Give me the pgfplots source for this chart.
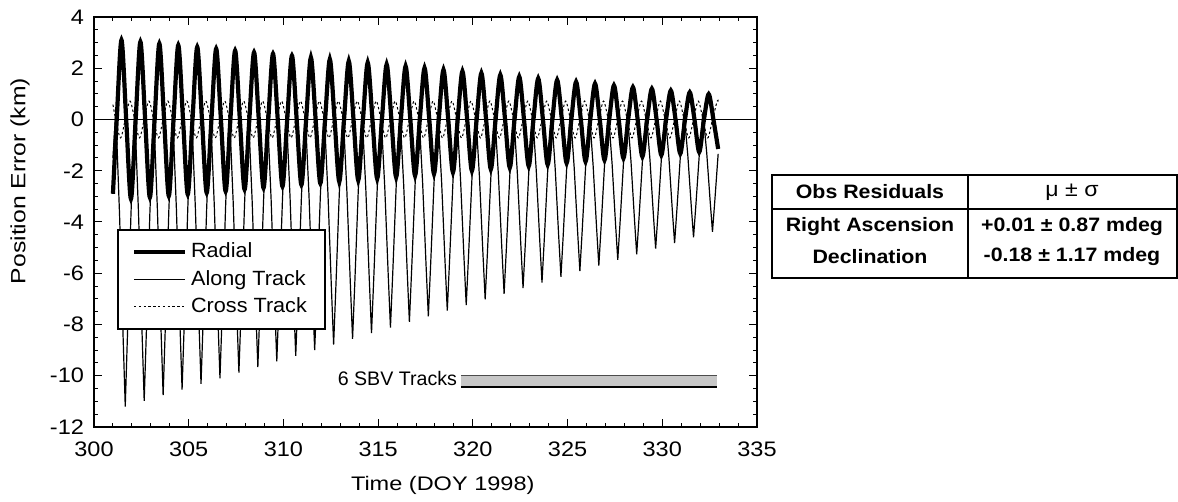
\documentclass[border=0pt]{standalone}
\usepackage{fontspec}
\setmainfont{Liberation Sans}
\newfontfamily\tickfont{Liberation Sans}[FakeStretch=1.12]
\newfontfamily\labfont{Liberation Sans}[FakeStretch=1.2]
\newfontfamily\legfont{Liberation Sans}[FakeStretch=1.05]
\newfontfamily\tabfont{Liberation Sans}[FakeStretch=1.1]
\usepackage{pgfplots}
\pgfplotsset{compat=1.18}
\begin{document}
\begin{tikzpicture}
\useasboundingbox (-47pt,-37.5pt) rectangle (542pt,213.5pt);
\begin{axis}[
  scale only axis, width=331.5pt, height=205pt,
  at={(0pt,0pt)}, anchor=south west,
  xmin=300, xmax=335, ymin=-12, ymax=4,
  xtick={300,305,...,335}, ytick={-12,-10,...,4},
  minor x tick num=4, minor y tick num=3,
  tick align=inside, major tick length=4pt, minor tick length=2pt,
  every tick/.style={black, line width=0.5pt},
  axis line style={line width=0.7pt},
  /pgf/number format/assume math mode=true,
  /pgf/number format/set thousands separator={},
  tick label style={font=\tickfont\fontsize{10.5}{12}\selectfont},
  xticklabel style={yshift=-4pt},
  yticklabel style={xshift=-1.5pt},
  xlabel={Time (DOY 1998)}, ylabel={Position Error (km)},
  label style={font=\labfont\fontsize{9.8}{12}\selectfont},
  xlabel style={at={(axis description cs:0.526,-0.1415)}, anchor=center},
  ylabel style={at={(axis description cs:-0.1116,0.60)}, anchor=center, font=\labfont\fontsize{10.3}{12}\selectfont},
  legend style={at={(axis description cs:0.0347,0.483)}, anchor=north west,
    draw=black, line width=0.9pt, inner xsep=7pt, inner ysep=4.5pt, row sep=0.8pt,
    font=\legfont\fontsize{10.3}{12}\selectfont, cells={anchor=west}},
  legend image code/.code={\draw[#1] (0pt,0pt) -- (25.5pt,0pt);},
]
% zero line
\addplot[black, line width=0.5pt, forget plot] coordinates {(300,0) (335,0)};
% SBV tracks band
\addplot[draw=none, fill=black!22, forget plot] coordinates {(319.4,-10.0) (332.9,-10.0) (332.9,-10.45) (319.4,-10.45)};
\addplot[black!70, line width=0.5pt, forget plot] coordinates {(319.4,-10.0) (332.9,-10.0)};
\addplot[black, line width=1.2pt, forget plot] coordinates {(319.4,-10.45) (332.9,-10.45)};
\node[anchor=west, font=\fontsize{9.8}{11}\selectfont] at (axis cs:312.5,-10.1) {6 SBV Tracks};
% Along track
\addplot[black, line width=0.6pt, forget plot] coordinates {
(301.00,-1.50) (301.15,0.30)
(301.35,-3.73) (301.53,-8.33) (301.65,-11.20) (301.77,-8.33) (301.95,-3.73) (302.15,0.30)
(302.35,-3.65) (302.53,-8.16) (302.65,-10.98) (302.77,-8.16) (302.95,-3.65) (303.15,0.30)
(303.35,-3.57) (303.53,-8.00) (303.65,-10.76) (303.77,-8.00) (303.95,-3.57) (304.15,0.30)
(304.35,-3.49) (304.53,-7.83) (304.65,-10.54) (304.77,-7.83) (304.95,-3.49) (305.15,0.30)
(305.35,-3.42) (305.53,-7.67) (305.65,-10.32) (305.77,-7.67) (305.95,-3.42) (306.15,0.30)
(306.35,-3.34) (306.53,-7.50) (306.65,-10.10) (306.77,-7.50) (306.95,-3.34) (307.15,0.30)
(307.35,-3.26) (307.53,-7.34) (307.65,-9.88) (307.77,-7.34) (307.95,-3.26) (308.15,0.30)
(308.35,-3.19) (308.53,-7.17) (308.65,-9.66) (308.77,-7.17) (308.95,-3.19) (309.15,0.30)
(309.35,-3.11) (309.53,-7.01) (309.65,-9.44) (309.77,-7.01) (309.95,-3.11) (310.15,0.30)
(310.35,-3.03) (310.53,-6.84) (310.65,-9.22) (310.77,-6.84) (310.95,-3.03) (311.15,0.30)
(311.35,-2.96) (311.53,-6.68) (311.65,-9.00) (311.77,-6.68) (311.95,-2.96) (312.15,0.30)
(312.35,-2.88) (312.53,-6.51) (312.65,-8.78) (312.77,-6.51) (312.95,-2.88) (313.15,0.30)
(313.35,-2.80) (313.53,-6.35) (313.65,-8.56) (313.77,-6.35) (313.95,-2.80) (314.15,0.30)
(314.35,-2.72) (314.53,-6.18) (314.65,-8.34) (314.77,-6.18) (314.95,-2.72) (315.15,0.30)
(315.35,-2.65) (315.53,-6.02) (315.65,-8.12) (315.77,-6.02) (315.95,-2.65) (316.15,0.30)
(316.35,-2.57) (316.53,-5.85) (316.65,-7.90) (316.77,-5.85) (316.95,-2.57) (317.15,0.30)
(317.35,-2.49) (317.53,-5.69) (317.65,-7.68) (317.77,-5.69) (317.95,-2.49) (318.15,0.30)
(318.35,-2.42) (318.53,-5.52) (318.65,-7.46) (318.77,-5.52) (318.95,-2.42) (319.15,0.30)
(319.35,-2.34) (319.53,-5.36) (319.65,-7.24) (319.77,-5.36) (319.95,-2.34) (320.15,0.30)
(320.35,-2.26) (320.53,-5.19) (320.65,-7.02) (320.77,-5.19) (320.95,-2.26) (321.15,0.30)
(321.35,-2.19) (321.53,-5.03) (321.65,-6.80) (321.77,-5.03) (321.95,-2.19) (322.15,0.30)
(322.35,-2.11) (322.53,-4.86) (322.65,-6.58) (322.77,-4.86) (322.95,-2.11) (323.15,0.30)
(323.35,-2.03) (323.53,-4.70) (323.65,-6.36) (323.77,-4.70) (323.95,-2.03) (324.15,0.30)
(324.35,-1.95) (324.53,-4.53) (324.65,-6.14) (324.77,-4.53) (324.95,-1.95) (325.15,0.30)
(325.35,-1.88) (325.53,-4.37) (325.65,-5.92) (325.77,-4.37) (325.95,-1.88) (326.15,0.30)
(326.35,-1.80) (326.53,-4.20) (326.65,-5.70) (326.77,-4.20) (326.95,-1.80) (327.15,0.30)
(327.35,-1.72) (327.53,-4.04) (327.65,-5.48) (327.77,-4.04) (327.95,-1.72) (328.15,0.30)
(328.35,-1.65) (328.53,-3.87) (328.65,-5.26) (328.77,-3.87) (328.95,-1.65) (329.15,0.30)
(329.35,-1.57) (329.53,-3.71) (329.65,-5.04) (329.77,-3.71) (329.95,-1.57) (330.15,0.30)
(330.35,-1.49) (330.53,-3.54) (330.65,-4.82) (330.77,-3.54) (330.95,-1.49) (331.15,0.30)
(331.35,-1.42) (331.53,-3.38) (331.65,-4.60) (331.77,-3.38) (331.95,-1.42) (332.15,0.30)
(332.35,-1.34) (332.53,-3.21) (332.65,-4.38) (332.77,-3.21) (332.95,-1.34)
};
% Cross track
\addplot[black, line width=0.5pt, dash pattern=on 1.2pt off 1.2pt, smooth, forget plot] coordinates {
(301.00,0.58) (301.15,0) (301.40,-0.72) (301.65,0) (301.90,0.72)
(302.15,0) (302.40,-0.72) (302.65,0) (302.90,0.72)
(303.15,0) (303.40,-0.72) (303.65,0) (303.90,0.72)
(304.15,0) (304.40,-0.72) (304.65,0) (304.90,0.72)
(305.15,0) (305.40,-0.72) (305.65,0) (305.90,0.72)
(306.15,0) (306.40,-0.72) (306.65,0) (306.90,0.72)
(307.15,0) (307.40,-0.72) (307.65,0) (307.90,0.72)
(308.15,0) (308.40,-0.72) (308.65,0) (308.90,0.72)
(309.15,0) (309.40,-0.72) (309.65,0) (309.90,0.72)
(310.15,0) (310.40,-0.72) (310.65,0) (310.90,0.72)
(311.15,0) (311.40,-0.72) (311.65,0) (311.90,0.72)
(312.15,0) (312.40,-0.72) (312.65,0) (312.90,0.72)
(313.15,0) (313.40,-0.72) (313.65,0) (313.90,0.72)
(314.15,0) (314.40,-0.72) (314.65,0) (314.90,0.72)
(315.15,0) (315.40,-0.72) (315.65,0) (315.90,0.72)
(316.15,0) (316.40,-0.72) (316.65,0) (316.90,0.72)
(317.15,0) (317.40,-0.72) (317.65,0) (317.90,0.72)
(318.15,0) (318.40,-0.72) (318.65,0) (318.90,0.72)
(319.15,0) (319.40,-0.72) (319.65,0) (319.90,0.72)
(320.15,0) (320.40,-0.72) (320.65,0) (320.90,0.72)
(321.15,0) (321.40,-0.72) (321.65,0) (321.90,0.72)
(322.15,0) (322.40,-0.72) (322.65,0) (322.90,0.72)
(323.15,0) (323.40,-0.72) (323.65,0) (323.90,0.72)
(324.15,0) (324.40,-0.72) (324.65,0) (324.90,0.72)
(325.15,0) (325.40,-0.72) (325.65,0) (325.90,0.72)
(326.15,0) (326.40,-0.72) (326.65,0) (326.90,0.72)
(327.15,0) (327.40,-0.72) (327.65,0) (327.90,0.72)
(328.15,0) (328.40,-0.72) (328.65,0) (328.90,0.72)
(329.15,0) (329.40,-0.72) (329.65,0) (329.90,0.72)
(330.15,0) (330.40,-0.72) (330.65,0) (330.90,0.72)
(331.15,0) (331.40,-0.72) (331.65,0) (331.90,0.72)
(332.15,0) (332.40,-0.72) (332.65,0) (332.90,0.72)
(332.95,0.70)
};
% Radial
\addplot[black, line width=2.1pt, smooth, forget plot] coordinates {
(301.00,-2.90) (301.20,0) (301.45,3.10) (301.70,0) (301.95,-3.10)
(302.20,0) (302.45,3.03) (302.70,0) (302.95,-3.04)
(303.20,0) (303.45,2.96) (303.70,0) (303.95,-2.98)
(304.20,0) (304.45,2.90) (304.70,0) (304.95,-2.92)
(305.20,0) (305.45,2.83) (305.70,0) (305.95,-2.86)
(306.20,0) (306.45,2.76) (306.70,0) (306.95,-2.80)
(307.20,0) (307.45,2.69) (307.70,0) (307.95,-2.73)
(308.20,0) (308.45,2.62) (308.70,0) (308.95,-2.67)
(309.20,0) (309.45,2.56) (309.70,0) (309.95,-2.61)
(310.20,0) (310.45,2.49) (310.70,0) (310.95,-2.55)
(311.20,0) (311.45,2.42) (311.70,0) (311.95,-2.49)
(312.20,0) (312.45,2.35) (312.70,0) (312.95,-2.43)
(313.20,0) (313.45,2.28) (313.70,0) (313.95,-2.37)
(314.20,0) (314.45,2.22) (314.70,0) (314.95,-2.31)
(315.20,0) (315.45,2.15) (315.70,0) (315.95,-2.25)
(316.20,0) (316.45,2.08) (316.70,0) (316.95,-2.19)
(317.20,0) (317.45,2.01) (317.70,0) (317.95,-2.12)
(318.20,0) (318.45,1.94) (318.70,0) (318.95,-2.06)
(319.20,0) (319.45,1.88) (319.70,0) (319.95,-2.00)
(320.20,0) (320.45,1.81) (320.70,0) (320.95,-1.94)
(321.20,0) (321.45,1.74) (321.70,0) (321.95,-1.88)
(322.20,0) (322.45,1.67) (322.70,0) (322.95,-1.82)
(323.20,0) (323.45,1.60) (323.70,0) (323.95,-1.76)
(324.20,0) (324.45,1.54) (324.70,0) (324.95,-1.70)
(325.20,0) (325.45,1.47) (325.70,0) (325.95,-1.64)
(326.20,0) (326.45,1.40) (326.70,0) (326.95,-1.58)
(327.20,0) (327.45,1.33) (327.70,0) (327.95,-1.51)
(328.20,0) (328.45,1.26) (328.70,0) (328.95,-1.45)
(329.20,0) (329.45,1.20) (329.70,0) (329.95,-1.39)
(330.20,0) (330.45,1.13) (330.70,0) (330.95,-1.33)
(331.20,0) (331.45,1.06) (331.70,0) (331.95,-1.27)
(332.20,0) (332.45,0.99) (332.70,0) (332.95,-1.15)
};
\addlegendimage{black, line width=2.1pt}
\addlegendentry{Radial}
\addlegendimage{black, line width=0.6pt}
\addlegendentry{Along Track}
\addlegendimage{black, line width=0.5pt, dash pattern=on 1.2pt off 1.2pt}
\addlegendentry{Cross Track}
\end{axis}
% Table
\begin{scope}[line width=0.7pt]
\draw (339pt,74.5pt) rectangle (541.5pt,126pt);
\draw (339pt,109pt) -- (541.5pt,109pt);
\draw (437pt,74.5pt) -- (437pt,126pt);
\end{scope}
\begin{scope}[every node/.style={font=\tabfont\bfseries\fontsize{9.7}{11}\selectfont, anchor=center, inner sep=0pt}]
\node at (388pt,117.5pt) {Obs Residuals};
\node[font=\tabfont\fontsize{10.5}{11}\selectfont] at (489pt,117.5pt) {μ ± σ};
\node at (388pt,100pt) {Right Ascension};
\node at (489pt,100pt) {+0.01 ± 0.87 mdeg};
\node at (388pt,85pt) {Declination};
\node at (489pt,85pt) {-0.18 ± 1.17 mdeg};
\end{scope}
\end{tikzpicture}
\end{document}
